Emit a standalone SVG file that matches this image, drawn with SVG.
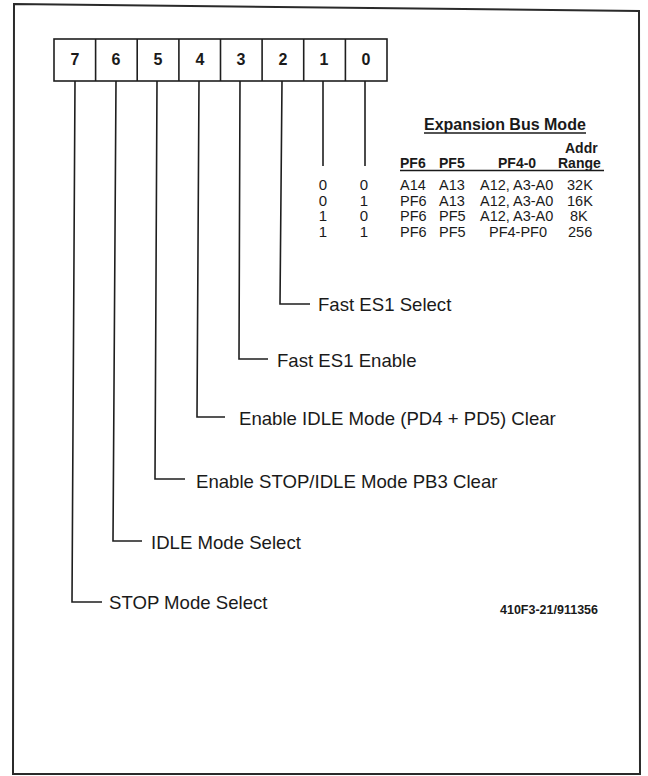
<svg xmlns="http://www.w3.org/2000/svg" width="648" height="776" viewBox="0 0 648 776">
<style>
  .frame{fill:none;stroke:#2a2a2a;stroke-width:2}
  .cell{fill:#fff;stroke:#1e1e1e;stroke-width:1.6}
  .wire{fill:none;stroke:#1e1e1e;stroke-width:1.6}
  .bit{font-family:"Liberation Sans",Arial,sans-serif;font-size:16px;font-weight:bold;fill:#1a1a1a;text-anchor:middle}
  .lbl{font-family:"Liberation Sans",Arial,sans-serif;font-size:18.6px;fill:#1a1a1a}
  .th{font-family:"Liberation Sans",Arial,sans-serif;font-size:14px;font-weight:bold;fill:#1a1a1a}
  .td{font-family:"Liberation Sans",Arial,sans-serif;font-size:14.5px;fill:#1a1a1a}
  .tv{font-family:"Liberation Sans",Arial,sans-serif;font-size:15px;fill:#1a1a1a;text-anchor:middle}
  .ref{font-family:"Liberation Sans",Arial,sans-serif;font-size:12.5px;font-weight:bold;fill:#1a1a1a}
</style>
<rect width="648" height="776" fill="#fff"/>
<polygon class="frame" points="14,4 639,11 640,774 13,774"/>

<g id="register">
  <rect class="cell" x="54" y="39" width="333" height="42"/>
  <line class="wire" x1="95.6" y1="39" x2="95.6" y2="81"/>
  <line class="wire" x1="137.2" y1="39" x2="137.2" y2="81"/>
  <line class="wire" x1="178.9" y1="39" x2="178.9" y2="81"/>
  <line class="wire" x1="220.5" y1="39" x2="220.5" y2="81"/>
  <line class="wire" x1="262.1" y1="39" x2="262.1" y2="81"/>
  <line class="wire" x1="303.7" y1="39" x2="303.7" y2="81"/>
  <line class="wire" x1="345.4" y1="39" x2="345.4" y2="81"/>
  <text class="bit" x="75" y="65">7</text>
  <text class="bit" x="116" y="65">6</text>
  <text class="bit" x="158" y="65">5</text>
  <text class="bit" x="200" y="65">4</text>
  <text class="bit" x="241" y="65">3</text>
  <text class="bit" x="283" y="65">2</text>
  <text class="bit" x="324" y="65">1</text>
  <text class="bit" x="366" y="65">0</text>
</g>

<g id="connectors">
  <polyline class="wire" points="75,81 72,602 102,602"/>
  <polyline class="wire" points="116,81 113,541 142,541"/>
  <polyline class="wire" points="157,81 155,479 185,479"/>
  <polyline class="wire" points="199,81 197,417 225,417"/>
  <polyline class="wire" points="240,81 239,359 268,359"/>
  <polyline class="wire" points="282,81 280,304 310,304"/>
  <line class="wire" x1="323" y1="81" x2="323" y2="166"/>
  <line class="wire" x1="365" y1="81" x2="365" y2="166"/>
</g>

<g id="label-bit2"><text class="lbl" x="318" y="311">Fast ES1 Select</text></g>
<g id="label-bit3"><text class="lbl" x="277" y="367">Fast ES1 Enable</text></g>
<g id="label-bit4"><text class="lbl" x="239" y="425">Enable IDLE Mode (PD4 + PD5) Clear</text></g>
<g id="label-bit5"><text class="lbl" x="196" y="488">Enable STOP/IDLE Mode PB3 Clear</text></g>
<g id="label-bit6"><text class="lbl" x="151" y="549">IDLE Mode Select</text></g>
<g id="label-bit7"><text class="lbl" x="109" y="609">STOP Mode Select</text></g>

<g id="bus-mode-table">
  <text x="424" y="130" font-family="Liberation Sans, Arial, sans-serif" font-size="16" font-weight="bold" fill="#1a1a1a">Expansion Bus Mode</text>
  <line x1="424" y1="133" x2="586" y2="133" stroke="#1a1a1a" stroke-width="1.5"/>
  <text class="th" x="565" y="153">Addr</text>
  <text class="th" x="400" y="168">PF6</text>
  <text class="th" x="439" y="168">PF5</text>
  <text class="th" x="498" y="168">PF4-0</text>
  <text class="th" x="558" y="168">Range</text>
  <line x1="400" y1="170.5" x2="604" y2="170.5" stroke="#1a1a1a" stroke-width="1.5"/>

  <text class="tv" x="323" y="190">0</text><text class="tv" x="364" y="190">0</text>
  <text class="td" x="400" y="190">A14</text><text class="td" x="439" y="190">A13</text>
  <text class="td" x="480" y="190">A12, A3-A0</text><text class="td" x="567" y="190">32K</text>

  <text class="tv" x="323" y="205.5">0</text><text class="tv" x="364" y="205.5">1</text>
  <text class="td" x="400" y="205.5">PF6</text><text class="td" x="439" y="205.5">A13</text>
  <text class="td" x="480" y="205.5">A12, A3-A0</text><text class="td" x="567" y="205.5">16K</text>

  <text class="tv" x="323" y="221">1</text><text class="tv" x="364" y="221">0</text>
  <text class="td" x="400" y="221">PF6</text><text class="td" x="439" y="221">PF5</text>
  <text class="td" x="480" y="221">A12, A3-A0</text><text class="td" x="570" y="221">8K</text>

  <text class="tv" x="323" y="236.5">1</text><text class="tv" x="364" y="236.5">1</text>
  <text class="td" x="400" y="236.5">PF6</text><text class="td" x="439" y="236.5">PF5</text>
  <text class="td" x="489" y="236.5">PF4-PF0</text><text class="td" x="568" y="236.5">256</text>
</g>

<text class="ref" x="500" y="614">410F3-21/911356</text>
</svg>
